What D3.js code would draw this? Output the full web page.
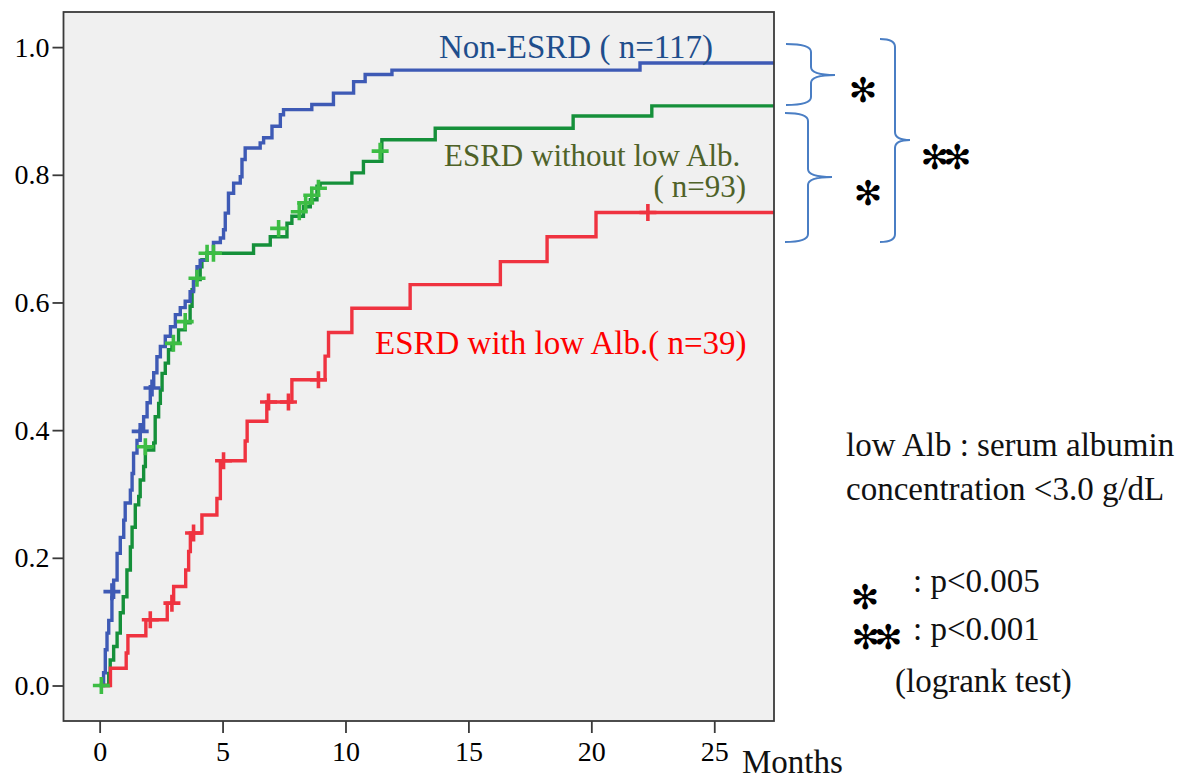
<!DOCTYPE html>
<html>
<head>
<meta charset="utf-8">
<script src="https://cdn.jsdelivr.net/npm/d3@7"></script>
<style>
  html, body { margin: 0; padding: 0; background: #ffffff; }
  svg { display: block; }
  text { font-family: "Liberation Serif", "Times New Roman", serif; }
</style>
</head>
<body>
<svg id="chart" width="1185" height="780"></svg>
<script>
// ---------------- data ----------------
const xTicks = [0, 5, 10, 15, 20, 25];
const yTicks = [0.0, 0.2, 0.4, 0.6, 0.8, 1.0];
const followUpEnd = 27.43;

// Non-ESRD (n=117)
const nonEsrdTimes = [0, 0.16, 0.23, 0.30, 0.37, 0.50, 0.57, 0.71, 0.84, 0.98, 1.04, 1.25, 1.32, 1.38, 1.52, 1.65, 1.79, 1.93, 2.06, 2.20, 2.33, 2.47, 2.67, 2.88, 3.08, 3.28, 3.48, 3.68, 3.82, 3.96, 4.09, 4.37, 4.63, 4.91, 5.04, 5.11, 5.24, 5.45, 5.72, 5.79, 5.92, 6.53, 6.67, 7.01, 7.35, 7.48, 8.63, 9.51, 10.33, 10.80, 11.89, 21.98];
const nonEsrdValues = [0, 0.020, 0.056, 0.082, 0.102, 0.138, 0.165, 0.207, 0.232, 0.259, 0.286, 0.306, 0.332, 0.364, 0.384, 0.400, 0.421, 0.443, 0.468, 0.490, 0.515, 0.531, 0.547, 0.562, 0.581, 0.592, 0.602, 0.617, 0.635, 0.656, 0.666, 0.678, 0.694, 0.701, 0.714, 0.740, 0.771, 0.787, 0.797, 0.824, 0.842, 0.850, 0.858, 0.876, 0.894, 0.902, 0.910, 0.928, 0.946, 0.957, 0.964, 0.975];
const nonEsrdCensorTimes = [0.50, 1.65, 2.13];
const nonEsrdCensorValues = [0.147, 0.398, 0.466];

// ESRD without low Alb (n=93)
const esrdNormTimes = [0, 0.37, 0.43, 0.57, 0.71, 0.84, 0.96, 1.11, 1.25, 1.32, 1.45, 1.59, 1.65, 1.79, 1.86, 2.20, 2.26, 2.40, 2.47, 2.54, 2.67, 2.80, 2.94, 3.21, 3.48, 3.68, 3.76, 3.82, 4.09, 4.16, 4.37, 6.26, 6.94, 7.62, 7.82, 8.29, 8.57, 8.84, 8.97, 10.26, 10.73, 11.48, 13.65, 19.26, 22.46];
const esrdNormValues = [0, 0.019, 0.040, 0.061, 0.082, 0.114, 0.139, 0.181, 0.217, 0.248, 0.283, 0.296, 0.322, 0.343, 0.369, 0.380, 0.421, 0.442, 0.463, 0.489, 0.505, 0.526, 0.536, 0.557, 0.568, 0.594, 0.620, 0.636, 0.656, 0.667, 0.677, 0.690, 0.703, 0.724, 0.735, 0.750, 0.761, 0.782, 0.787, 0.803, 0.821, 0.855, 0.873, 0.892, 0.908];
const esrdNormCensorTimes = [0.07, 1.86, 3.00, 3.48, 3.96, 4.37, 4.63, 7.28, 8.12, 8.38, 8.63, 8.90, 11.41];
const esrdNormCensorValues = [0.000, 0.374, 0.536, 0.570, 0.638, 0.677, 0.677, 0.716, 0.742, 0.756, 0.768, 0.779, 0.837];

// ESRD with low Alb (n=39)
const esrdLowTimes = [0, 0.44, 1.08, 1.15, 1.88, 2.75, 3.01, 3.50, 3.62, 3.69, 4.16, 4.77, 4.91, 5.92, 6.00, 6.80, 7.82, 9.17, 9.31, 10.26, 12.63, 16.30, 18.20, 20.19];
const esrdLowValues = [0, 0.027, 0.051, 0.078, 0.103, 0.129, 0.155, 0.181, 0.210, 0.239, 0.267, 0.293, 0.352, 0.383, 0.414, 0.444, 0.479, 0.516, 0.553, 0.591, 0.628, 0.664, 0.703, 0.741];
const esrdLowCensorTimes = [2.06, 2.94, 3.82, 5.04, 6.87, 7.68, 8.90, 22.30];
const esrdLowCensorValues = [0.103, 0.129, 0.239, 0.352, 0.444, 0.444, 0.479, 0.741];

// ---------------- drawing ----------------
const svg = d3.select("#chart");
const L = 63.5, T = 12, R = 774, B = 721;

const x = d3.scaleLinear().domain([-1.47, 27.43]).range([L, R]);
const y = d3.scaleLinear().domain([-0.0556, 1.055]).range([B, T]);

svg.append("rect").attr("x", L).attr("y", T).attr("width", R - L).attr("height", B - T)
  .attr("fill", "#f0f0f0");

const clip = svg.append("clipPath").attr("id", "plotclip");
clip.append("rect").attr("x", L).attr("y", T).attr("width", R - L).attr("height", B - T);

const series = [
  { times: esrdNormTimes, values: esrdNormValues, ct: esrdNormCensorTimes, cv: esrdNormCensorValues, line: "#15903a", cens: "#3dbd44" },
  { times: nonEsrdTimes, values: nonEsrdValues, ct: nonEsrdCensorTimes, cv: nonEsrdCensorValues, line: "#3e5ab5", cens: "#3e5ab5" },
  { times: esrdLowTimes, values: esrdLowValues, ct: esrdLowCensorTimes, cv: esrdLowCensorValues, line: "#ef3340", cens: "#ef3340" }
];

const line = d3.line().curve(d3.curveStepAfter).x(d => x(d[0])).y(d => y(d[1]));
const g = svg.append("g").attr("clip-path", "url(#plotclip)");

series.forEach(s => {
  const pts = s.times.map((t, i) => [t, s.values[i]]);
  pts.push([followUpEnd, s.values[s.values.length - 1]]);
  g.append("path").datum(pts).attr("d", line)
    .attr("fill", "none").attr("stroke", s.line).attr("stroke-width", 3.4)
    .attr("stroke-linejoin", "miter");
});
series.forEach(s => {
  const cg = g.append("g");
  s.ct.forEach((t, i) => {
    const cx = x(t), cy = y(s.cv[i]);
    cg.append("path")
      .attr("d", `M${cx - 8.5},${cy}H${cx + 8.5}M${cx},${cy - 8.5}V${cy + 8.5}`)
      .attr("stroke", s.cens).attr("stroke-width", 3.6).attr("fill", "none");
  });
});

// frame
svg.append("rect").attr("x", L).attr("y", T).attr("width", R - L).attr("height", B - T)
  .attr("fill", "none").attr("stroke", "#3a3a3a").attr("stroke-width", 1.8);

// axes
const xAxis = d3.axisBottom(x).tickValues(xTicks).tickSize(12).tickPadding(8).tickFormat(d3.format("d"));
const xg = svg.append("g").attr("transform", `translate(0,${B})`).call(xAxis);
xg.attr("font-family", null);
xg.select(".domain").remove();
xg.selectAll(".tick line").attr("stroke", "#3a3a3a").attr("stroke-width", 1.8);
xg.selectAll(".tick text").style("font-family", "'Liberation Serif', serif").attr("font-size", 28).attr("fill", "#000");

const yAxis = d3.axisLeft(y).tickValues(yTicks).tickSize(11).tickPadding(3).tickFormat(d3.format(".1f"));
const yg = svg.append("g").attr("transform", `translate(${L},0)`).call(yAxis);
yg.attr("font-family", null);
yg.select(".domain").remove();
yg.selectAll(".tick line").attr("stroke", "#3a3a3a").attr("stroke-width", 1.8);
yg.selectAll(".tick text").style("font-family", "'Liberation Serif', serif").attr("font-size", 28).attr("fill", "#000");

svg.append("text").attr("x", 742).attr("y", 773).attr("font-size", 33).attr("fill", "#111").text("Months");

// curve labels
svg.append("text").attr("x", 439).attr("y", 58).attr("font-size", 33).attr("fill", "#1f4e8c").text("Non-ESRD ( n=117)");
const midLabel = svg.append("text").attr("font-size", 31).attr("fill", "#4f6228");
midLabel.append("tspan").attr("x", 444).attr("y", 166).text("ESRD without low Alb.");
midLabel.append("tspan").attr("x", 746).attr("y", 197).attr("text-anchor", "end").text("( n=93)");
svg.append("text").attr("x", 375).attr("y", 354).attr("font-size", 33).attr("fill", "#ff0000").text("ESRD with low Alb.( n=39)");

// braces
function brace(x0, x1, xt, y0, ym, y1) {
  const r = 8;
  return `M${x0},${y0} Q${x1},${y0} ${x1},${y0 + r} L${x1},${ym - r} Q${x1},${ym} ${xt},${ym}` +
         ` Q${x1},${ym} ${x1},${ym + r} L${x1},${y1 - r} Q${x1},${y1} ${x0},${y1}`;
}
const braceColor = "#4a7ec4";
[[786, 811, 835, 44, 75, 105], [785, 808, 832, 113, 177, 242], [880, 895, 910, 39, 140, 242]].forEach(b => {
  svg.append("path").attr("d", brace(...b)).attr("fill", "none").attr("stroke", braceColor).attr("stroke-width", 2);
});

function star(cx, cy, size, label) {
  svg.append("text").attr("x", cx).attr("y", cy).attr("text-anchor", "middle").attr("dominant-baseline", "central")
    .attr("letter-spacing", -6)
    .style("font-family", "'DejaVu Sans', sans-serif").attr("font-size", size).attr("fill", "#000").text(label);
}
star(860, 90, 34, "\u273B");
star(865, 193, 34, "\u273B");
star(943, 157, 34, "\u273B\u273B");
star(862, 597, 34, "\u273B");
star(874, 637, 34, "\u273B\u273B");

// notes
const notes = [
  ["low Alb : serum albumin", 846, 456],
  ["concentration <3.0 g/dL", 846, 500],
  [": p<0.005", 913, 592],
  [": p<0.001", 913, 640],
  ["(logrank test)", 895, 692]
];
notes.forEach(n => svg.append("text").attr("x", n[1]).attr("y", n[2]).attr("font-size", 33).attr("fill", "#111").text(n[0]));
</script>
</body>
</html>
